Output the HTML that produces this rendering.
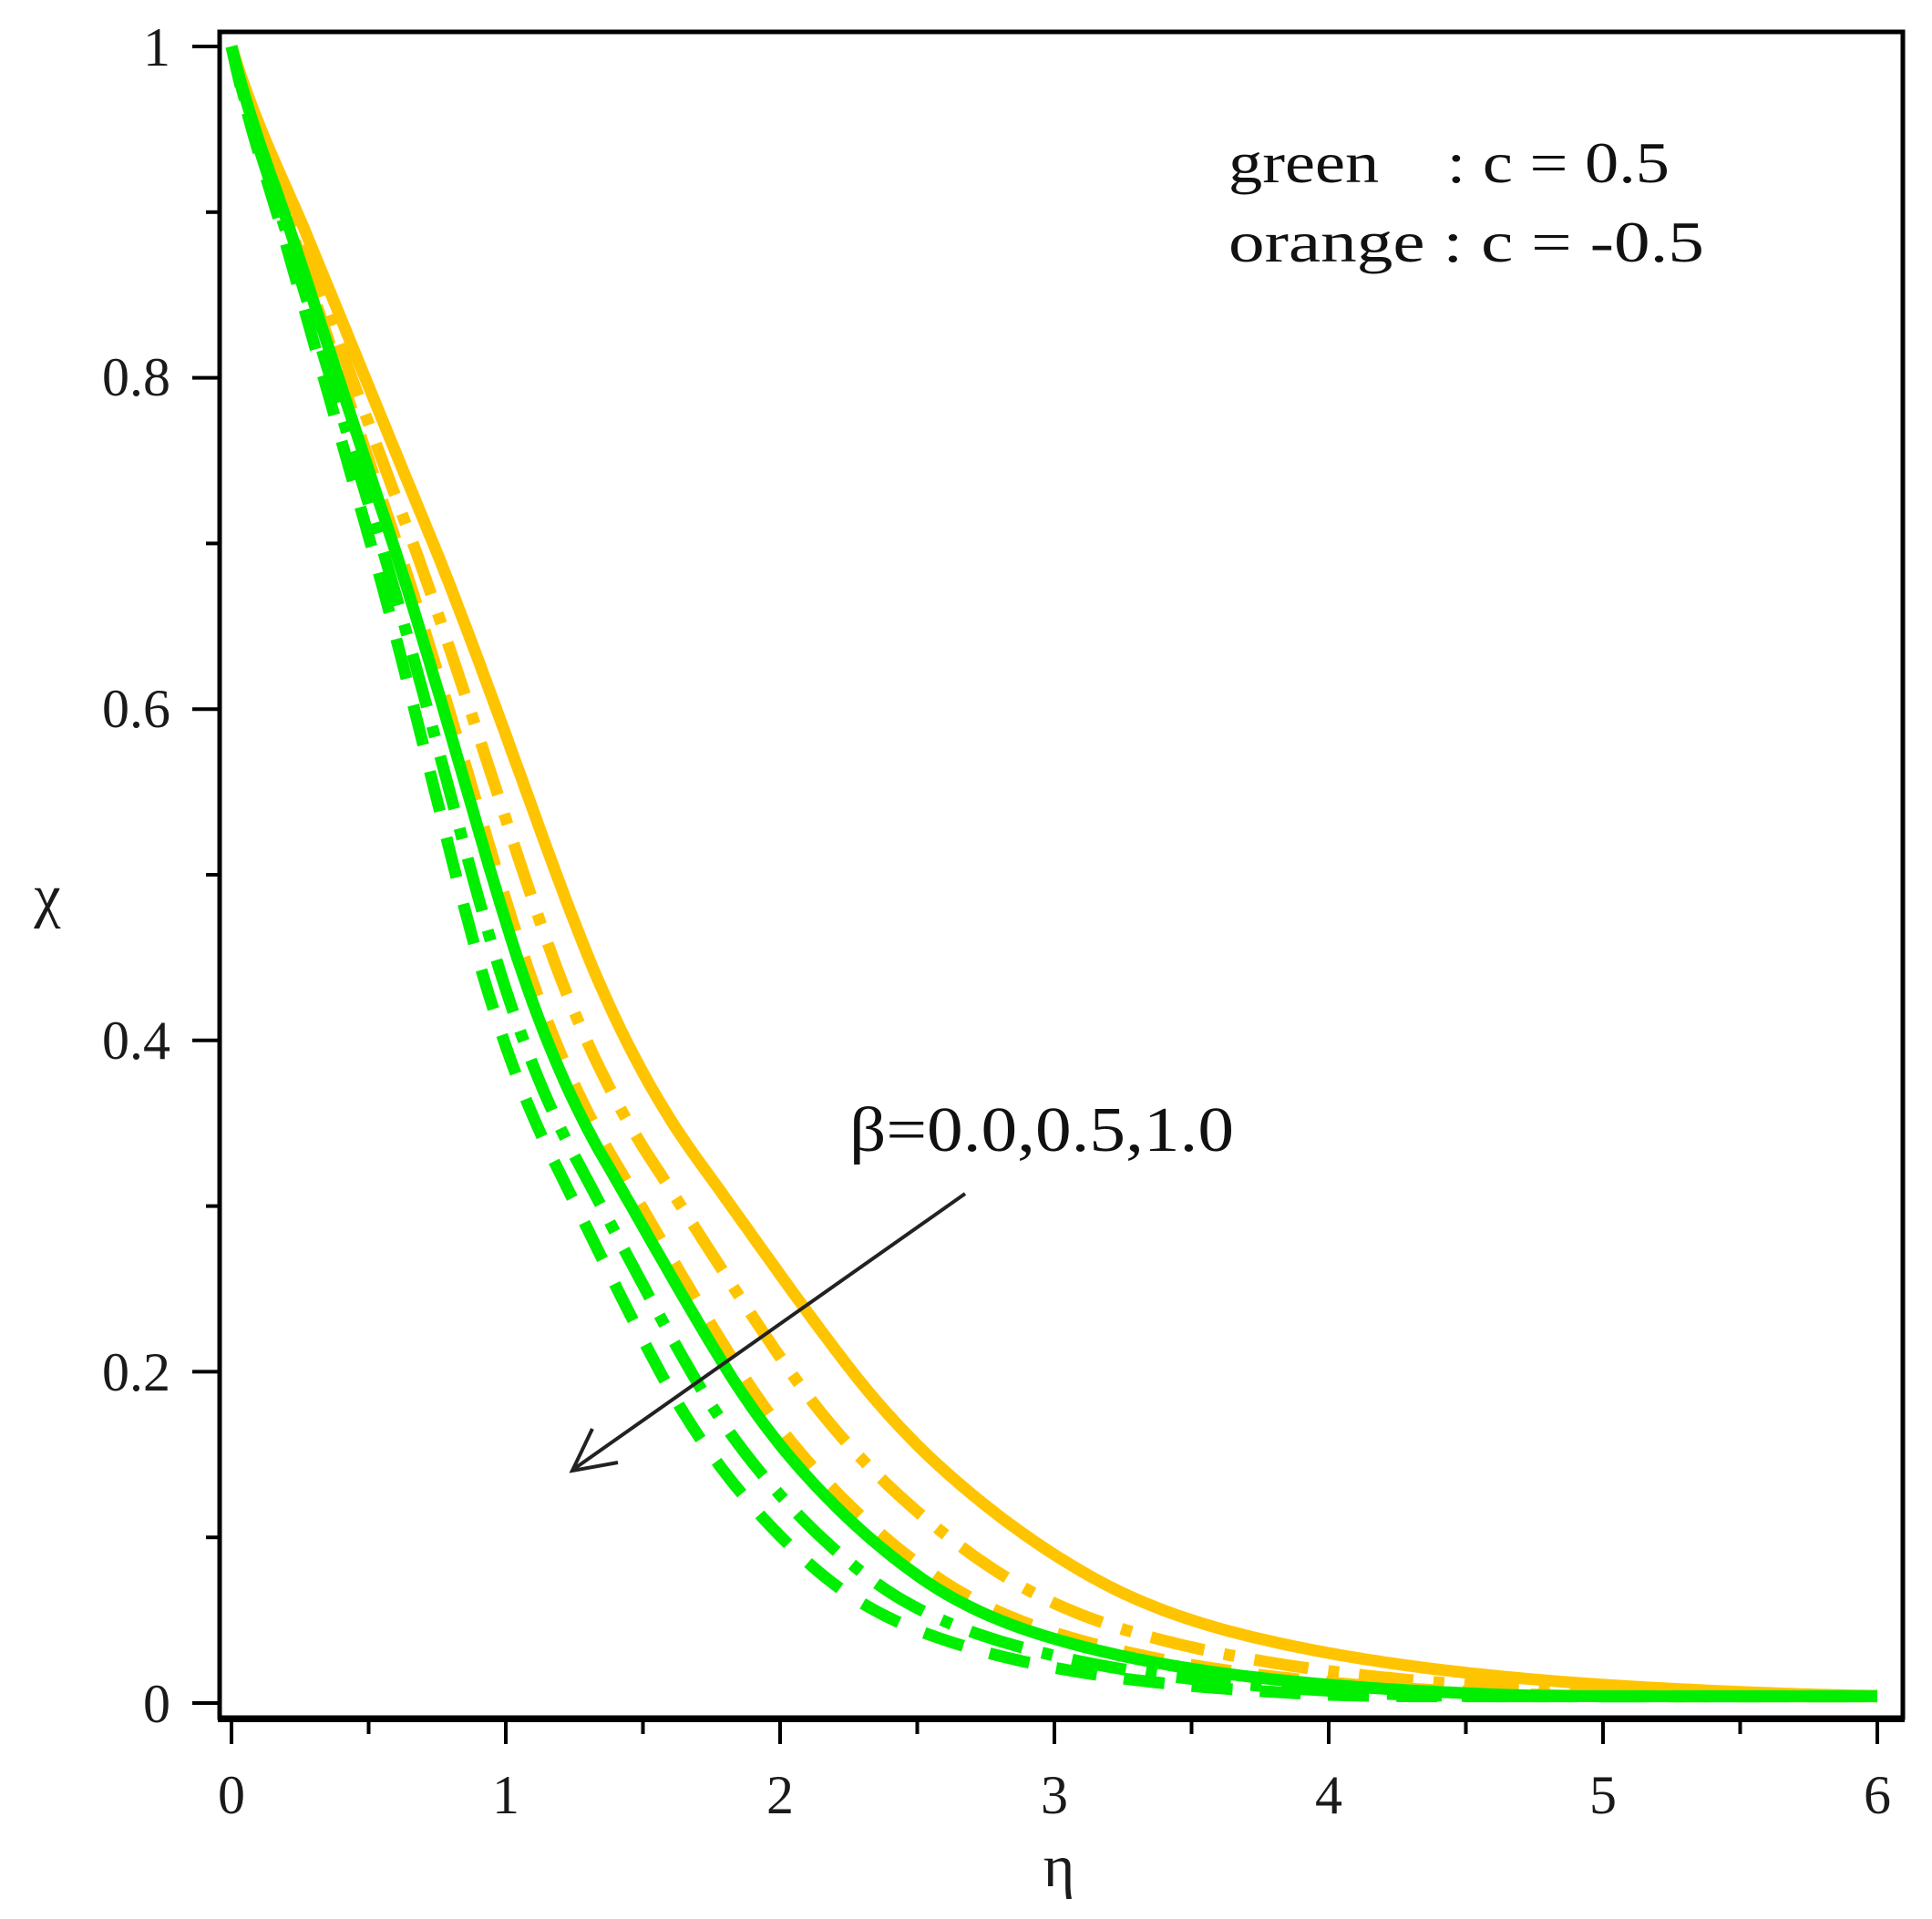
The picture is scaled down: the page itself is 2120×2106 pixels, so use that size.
<!DOCTYPE html>
<html><head><meta charset="utf-8">
<style>html,body{margin:0;padding:0;background:#fff}svg{display:block}</style>
</head><body>
<svg id="s" width="2120" height="2106" viewBox="0 0 2120 2106" xmlns="http://www.w3.org/2000/svg" font-family="Liberation Serif, serif">
<rect width="2120" height="2106" fill="#fff"/>
<g id="curves"></g>
<rect x="241" y="35" width="1847" height="1850" fill="none" stroke="#000" stroke-width="5"/>
<line x1="239" y1="1887" x2="2090" y2="1887" stroke="#000" stroke-width="6"/>
<g id="ticks" stroke="#000" stroke-width="4"></g>
<g font-size="60" fill="#1a1a1a">
<text x="187" y="72" text-anchor="end">1</text>
<text x="187" y="434" text-anchor="end">0.8</text>
<text x="187" y="798" text-anchor="end">0.6</text>
<text x="187" y="1162" text-anchor="end">0.4</text>
<text x="187" y="1526" text-anchor="end">0.2</text>
<text x="187" y="1890" text-anchor="end">0</text>
<text x="254" y="1990" text-anchor="middle">0</text>
<text x="555" y="1990" text-anchor="middle">1</text>
<text x="856" y="1990" text-anchor="middle">2</text>
<text x="1157" y="1990" text-anchor="middle">3</text>
<text x="1458" y="1990" text-anchor="middle">4</text>
<text x="1759" y="1990" text-anchor="middle">5</text>
<text x="2060" y="1990" text-anchor="middle">6</text>
<text x="1162" y="2070" text-anchor="middle" font-size="66">η</text>
<text x="52" y="1005" text-anchor="middle" font-size="66">χ</text>
</g>
<g font-size="64" fill="#111">
<text x="1348" y="200" textLength="484" lengthAdjust="spacingAndGlyphs">green&#160;&#160;&#160;&#160;: c = 0.5</text>
<text x="1348" y="287" textLength="522" lengthAdjust="spacingAndGlyphs">orange : c = -0.5</text>
<text x="932" y="1263" font-size="70" textLength="422" lengthAdjust="spacingAndGlyphs">β=0.0,0.5,1.0</text>
</g>
<line x1="1059" y1="1310" x2="630" y2="1612" stroke="#222" stroke-width="4"/>
<polyline points="650,1568 628,1614 678,1605" fill="none" stroke="#222" stroke-width="4"/>
</svg>
<script>
var X0=254,XS=301,Y0=1869,YS=1818;
var pts=[[0,0],[0.5,0.22],[1,0.51],[1.42,0.92],[1.98,1.31],[2.87,2.25],[3.4,2.9],[6,5.5]];
function Lin(e){for(var i=1;i<pts.length;i++){if(e<=pts[i][0]){var a=pts[i-1],b=pts[i];return a[1]+(b[1]-a[1])*(e-a[0])/(b[0]-a[0]);}}return 5.5;}
function L(e){var s=0,n=0;for(var d=-0.25;d<=0.25001;d+=0.05){s+=Lin(Math.max(0,e+d));n++;}var v=s/n;if(e<0.3){v=v*(e/0.3)+Lin(e)*(1-e/0.3);}return v;}
function path(k){var d="";for(var e=0;e<=6;e+=0.02){var c=Math.exp(-L(e/k));var x=X0+e*XS,y=Y0-c*YS;d+=(d?"L":"M")+x.toFixed(1)+","+y.toFixed(1);}return d;}
var cv=[["#ffc400",1,null],["#ffc400",0.9,"60 22 12 22"],["#ffc400",0.82,"45 30"],["#00ee00",0.8,null],["#00ee00",0.74,"60 22 12 22"],["#00ee00",0.69,"45 30"]];
var g=document.getElementById("curves"),h="";
cv.forEach(function(c){h+='<path d="'+path(c[1])+'" fill="none" stroke="'+c[0]+'" stroke-width="13"'+(c[2]?' stroke-dasharray="'+c[2]+'"':'')+'/>';});
g.innerHTML=h;
var t="";
for(var i=0;i<=10;i++){var y=Y0-i*YS/10;t+='<line x1="'+(i%2?226:211)+'" y1="'+y+'" x2="241" y2="'+y+'"/>';}
for(var i=0;i<=12;i++){var x=X0+i*XS/2;t+='<line x1="'+x+'" y1="1887" x2="'+x+'" y2="'+(i%2?1903:1914)+'"/>';}
document.getElementById("ticks").innerHTML=t;
</script>
</body></html>
